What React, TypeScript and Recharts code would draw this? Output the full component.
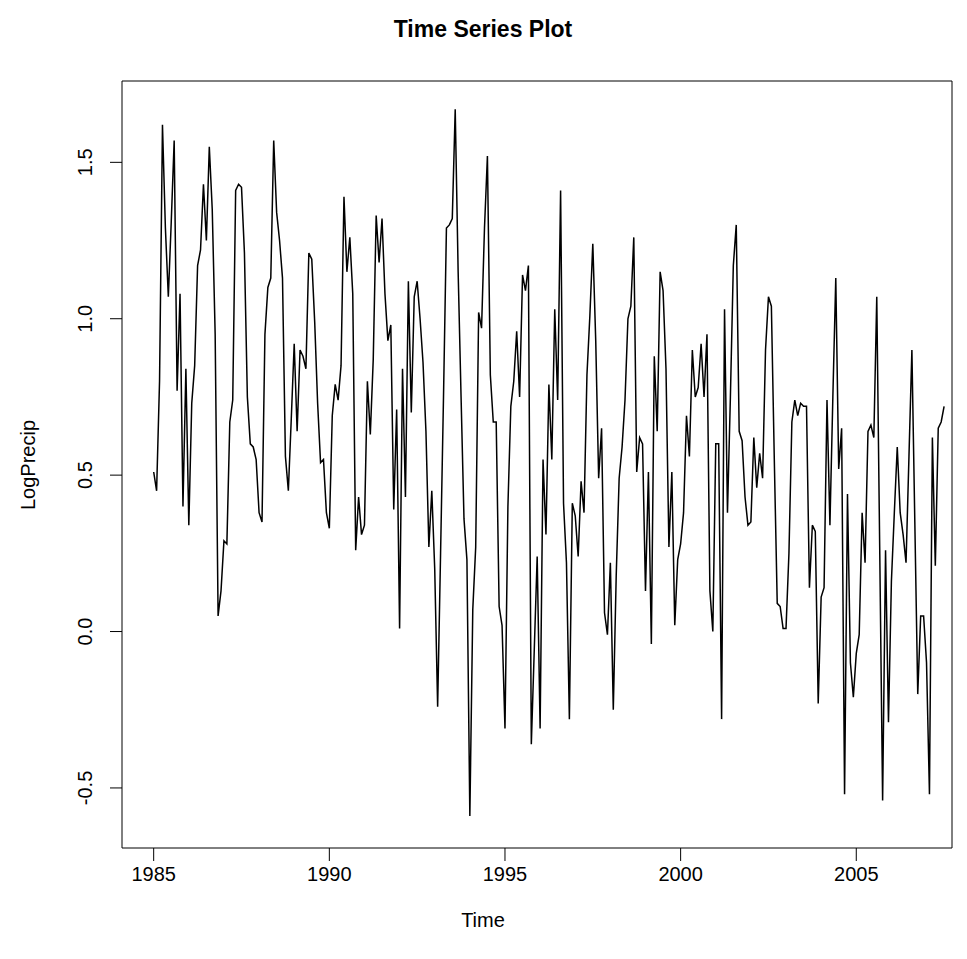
import React from 'react';
import { LineChart, Line, XAxis, YAxis, ReferenceArea } from 'recharts';

// ---- data (monthly series, starts Jan 1985) ----
const startYear = 1985;
const periodsPerYear = 12;
const logPrecip: number[] = [
  0.51, 0.45, 0.80, 1.62, 1.29, 1.07, 1.31, 1.57, 0.77, 1.08, 0.40, 0.84, 0.34, 0.73, 0.85, 1.17, 1.22, 1.43, 1.25, 1.55, 1.35, 0.95, 0.05, 0.13, 0.29, 0.28, 0.67, 0.74,
  1.41, 1.43, 1.42, 1.21, 0.75, 0.60, 0.59, 0.55, 0.38, 0.35, 0.95, 1.10, 1.13, 1.57, 1.34, 1.25, 1.13, 0.56, 0.45, 0.68, 0.92, 0.64, 0.90, 0.88, 0.84, 1.21, 1.19,
  0.99, 0.73, 0.54, 0.55, 0.38, 0.33, 0.69, 0.79, 0.74, 0.85, 1.39, 1.15, 1.26, 1.08, 0.26, 0.43, 0.31, 0.34, 0.80, 0.63, 0.87, 1.33, 1.18, 1.32, 1.08, 0.93,
  0.98, 0.39, 0.71, 0.01, 0.84, 0.43, 1.12, 0.70, 1.07, 1.12, 1.00, 0.86, 0.64, 0.27, 0.45, 0.20, -0.24, 0.25, 0.75, 1.29, 1.30, 1.32, 1.67, 1.15, 0.75, 0.36, 0.23, -0.59,
  0.07, 0.27, 1.02, 0.97, 1.29, 1.52, 0.82, 0.67, 0.67, 0.08, 0.02, -0.31, 0.40, 0.72, 0.80, 0.96, 0.75, 1.14, 1.09, 1.17, -0.36, -0.06, 0.24, -0.31, 0.55, 0.31, 0.79, 0.55,
  1.03, 0.74, 1.41, 0.41, 0.22, -0.28, 0.41, 0.37, 0.24, 0.48, 0.38, 0.82, 1.01, 1.24, 0.93, 0.49, 0.65, 0.06, -0.01, 0.22, -0.25, 0.18, 0.49, 0.59, 0.74, 1.00, 1.04, 1.26,
  0.51, 0.62, 0.60, 0.13, 0.51, -0.04, 0.88, 0.64, 1.15, 1.09, 0.84, 0.27, 0.51, 0.02, 0.23, 0.28, 0.38, 0.69, 0.56, 0.90, 0.75, 0.78, 0.92, 0.75, 0.95, 0.13, 0.00,
  0.60, 0.60, -0.28, 1.03, 0.38, 0.75, 1.17, 1.30, 0.64, 0.61, 0.43, 0.34, 0.35, 0.62, 0.46, 0.57, 0.49, 0.90, 1.07, 1.04, 0.55, 0.09, 0.08, 0.01, 0.01, 0.25, 0.67,
  0.74, 0.69, 0.73, 0.72, 0.72, 0.14, 0.34, 0.32, -0.23, 0.11, 0.14, 0.74, 0.34, 0.75, 1.13, 0.52, 0.65, -0.52, 0.44, -0.10, -0.21, -0.07, -0.01, 0.38, 0.22, 0.64, 0.66, 0.62,
  1.07, 0.27, -0.54, 0.26, -0.29, 0.16, 0.38, 0.59, 0.38, 0.31, 0.22, 0.56, 0.90, 0.35, -0.20, 0.05, 0.05, -0.10, -0.52, 0.62, 0.21, 0.65, 0.67, 0.72,
];
const xTicks = [1985, 1990, 1995, 2000, 2005];
const xTickLabels = ['1985', '1990', '1995', '2000', '2005'];
const yTicks = [-0.5, 0, 0.5, 1, 1.5];
const yTickLabels = ['-0.5', '0.0', '0.5', '1.0', '1.5'];
const title = 'Time Series Plot';
const xTitle = 'Time';
const yTitle = 'LogPrecip';

const tableData = logPrecip.map((v, i) => ({ t: startYear + i / periodsPerYear, v }));

// ---- layout ----
const W = 967;
const H = 959;
const BOX_LEFT = 122;
const BOX_RIGHT = 952;
const BOX_TOP = 81;
const BOX_BOTTOM = 848;
const X_DOMAIN: [number, number] = [1984.098, 2007.725];
const Y_DOMAIN: [number, number] = [-0.692, 1.76];
const FONT = '"Liberation Sans", Arial, Helvetica, sans-serif';
const TICK_FS = 20;
const TEXT_CX = 483;

const XTick = (props: any) => {
  const { x, payload } = props;
  const i = xTicks.indexOf(payload.value);
  return (
    <text x={x} y={874} textAnchor="middle" dominantBaseline="central" fontFamily={FONT} fontSize={TICK_FS} fill="#000">
      {xTickLabels[i]}
    </text>
  );
};

const YTick = (props: any) => {
  const { y, payload } = props;
  const i = yTicks.indexOf(payload.value);
  const cx = 85;
  return (
    <text x={cx} y={y} transform={`rotate(-90, ${cx}, ${y})`} textAnchor="middle" dominantBaseline="central" fontFamily={FONT} fontSize={TICK_FS} fill="#000">
      {yTickLabels[i]}
    </text>
  );
};

export default function App() {
  const boxCy = (BOX_TOP + BOX_BOTTOM) / 2;
  return (
    <div style={{ position: 'absolute', left: 0, top: 0, width: W, height: H, background: '#fff' }}>
      <LineChart
        width={W}
        height={H}
        data={tableData}
        margin={{ top: BOX_TOP, right: W - BOX_RIGHT, bottom: 0, left: 0 }}
      >
        <XAxis
          type="number"
          dataKey="t"
          domain={X_DOMAIN}
          ticks={xTicks}
          allowDataOverflow
          axisLine={false}
          tickLine={{ stroke: '#000', strokeWidth: 1 }}
          tickSize={13}
          height={H - BOX_BOTTOM}
          tick={<XTick />}
          interval={0}
        />
        <YAxis
          type="number"
          domain={Y_DOMAIN}
          ticks={yTicks}
          allowDataOverflow
          axisLine={false}
          tickLine={{ stroke: '#000', strokeWidth: 1 }}
          tickSize={12}
          width={BOX_LEFT}
          tick={<YTick />}
          interval={0}
        />
        <ReferenceArea
          x1={X_DOMAIN[0]}
          x2={X_DOMAIN[1]}
          y1={Y_DOMAIN[0]}
          y2={Y_DOMAIN[1]}
          fill="none"
          fillOpacity={0}
          stroke="#000"
          strokeWidth={1}
          ifOverflow="visible"
        />
        <Line
          type="linear"
          dataKey="v"
          stroke="#000"
          strokeWidth={1.5}
          dot={false}
          isAnimationActive={false}
        />
      </LineChart>
      <div style={{ position: 'absolute', left: TEXT_CX - 300, width: 600, top: 14, textAlign: 'center', fontFamily: FONT, fontWeight: 'bold', fontSize: 23, lineHeight: '30px' }}>
        {title}
      </div>
      <div style={{ position: 'absolute', left: TEXT_CX - 300, width: 600, top: 907, textAlign: 'center', fontFamily: FONT, fontSize: TICK_FS, lineHeight: '26px' }}>
        {xTitle}
      </div>
      <div style={{ position: 'absolute', left: 28 - 150, top: boxCy - 13, width: 300, height: 26, textAlign: 'center', fontFamily: FONT, fontSize: TICK_FS, lineHeight: '26px', transform: 'rotate(-90deg)' }}>
        {yTitle}
      </div>
    </div>
  );
}
